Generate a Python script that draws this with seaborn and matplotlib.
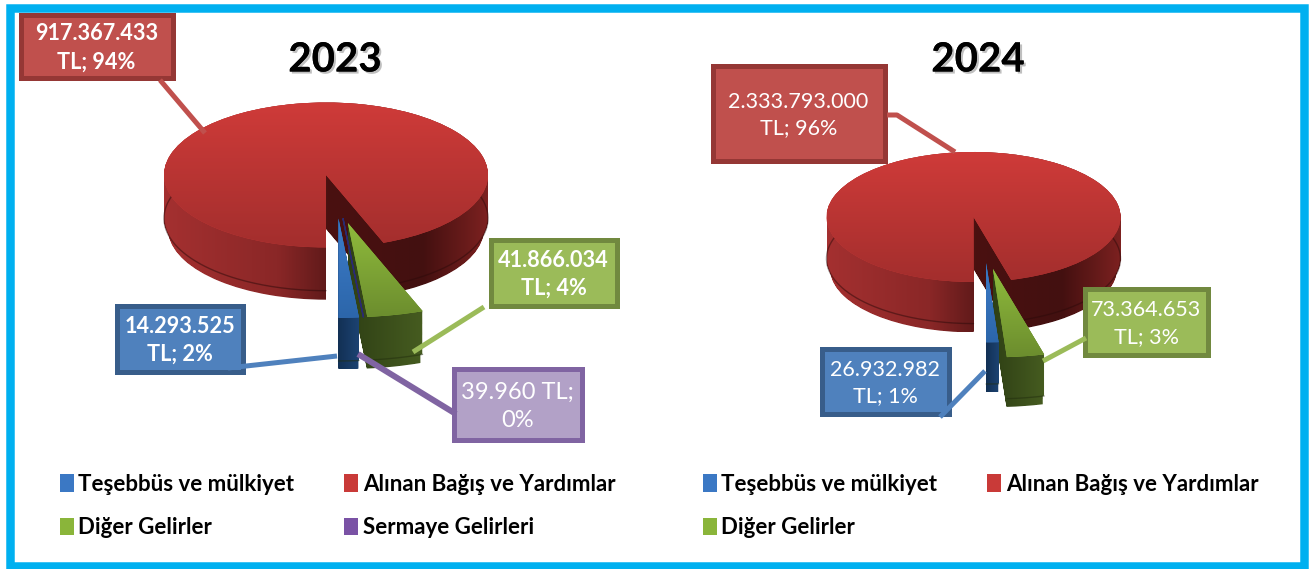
import numpy as np
import seaborn as sns
import matplotlib
matplotlib.use('Agg')
import matplotlib.pyplot as plt
import matplotlib.patheffects as pe
from matplotlib.colors import LinearSegmentedColormap
from matplotlib.patches import Rectangle
from matplotlib.path import Path

# data
categories_2023 = ['Teşebbüs ve mülkiyet', 'Alınan Bağış ve Yardımlar', 'Diğer Gelirler', 'Sermaye Gelirleri']
values_2023 = [14293525, 917367433, 41866034, 39960]
percents_2023 = [2, 94, 4, 0]

categories_2024 = ['Teşebbüs ve mülkiyet', 'Alınan Bağış ve Yardımlar', 'Diğer Gelirler']
values_2024 = [26932982, 2333793000, 73364653]
percents_2024 = [1, 96, 3]

W, H = 1313, 569

sns.set_theme(style='white')
plt.rcParams['font.family'] = ['Lato', 'DejaVu Sans']

palette = sns.color_palette(['#3b78c4', '#c93a38', '#8ab53a', '#7a52a5'])
box_fill = ['#4f81bd', '#c0504d', '#9bbb59', '#b2a1c7']
box_edge = ['#385d8a', '#953735', '#71893f', '#8064a2']
line_col = ['#4f81bd', '#c0504d', '#9bbb59', '#8064a2']

top_stops = [
    [(0, '#3d7cc9'), (1, '#2c66aa')],
    [(0, '#cf3b39'), (1, '#a32e2d')],
    [(0, '#8fbb3c'), (1, '#6c8d2e')],
    [(0, '#7a52a5'), (1, '#5a3c80')],
]
side_stops = [
    [(0, '#123054'), (1, '#1c4372')],
    [(0, '#a43030'), (0.35, '#8a2727'), (0.5, '#611a1a'), (0.502, '#4a1110'), (0.8, '#431010'), (1, '#7c2120')],
    [(0, '#2f4015'), (1, '#465c20')],
    [(0, '#2d1f4d'), (1, '#3f2a63')],
]


def gradient_image(ax, path, stops, vertical, z):
    # fill a path with a linear gradient, image clipped to the path
    bb = path.get_extents()
    cmap = LinearSegmentedColormap.from_list('g', stops)
    grad = np.linspace(0, 1, 256)
    grad = grad[:, None] if vertical else grad[None, :]
    im = ax.imshow(grad, cmap=cmap, vmin=0, vmax=1, aspect='auto', origin='upper',
                   extent=(bb.x0, bb.x1, bb.y0, bb.y1), zorder=z, interpolation='bilinear')
    im.set_clip_path(path, transform=ax.transData)


def extrude(path, depth, center):
    layers = []
    for t in np.linspace(0, 1, 60):
        scale = 1.0 if t < 0.8 else 0.975
        v = (path.vertices - center) * scale + center
        v = v + [0, -depth * t]
        layers.append(Path(v, path.codes))
    return Path.make_compound_path(*layers)


def draw_pie(cx, cy, rx, ry, depth_px, values, explode, grow, nudge, order):
    # axes over the whole figure, one data unit = rx / ry pixels
    ax = fig.add_axes([0, 0, 1, 1], zorder=1)
    start = -90 + 360 * values[0] / sum(values)
    wedges, _ = ax.pie(values, explode=explode, colors=palette[:len(values)], startangle=start,
                       counterclock=False, radius=1, wedgeprops={'linewidth': 0})
    depth = depth_px / ry
    for z, i in enumerate(order):
        w = wedges[i]
        w.set_radius(grow[i])
        w.set_center((w.center[0] + nudge[i] / rx, w.center[1]))
        path = w.get_path()
        c = np.array(w.center)
        w.set_zorder(10 + 3 * z + 1)
        if w.theta2 - w.theta1 < 0.5:
            # sliver, too thin to fill: show it as a dark line
            w.set_edgecolor('#2a2a70')
            w.set_linewidth(1.0)
            continue
        side = extrude(path, depth, c)
        gradient_image(ax, side, side_stops[i], False, 10 + 3 * z)
        gradient_image(ax, path, top_stops[i], True, 10 + 3 * z + 2)
        th = np.radians(np.linspace(w.theta1, w.theta2, 400))
        ax.plot(c[0] + grow[i] * np.cos(th), c[1] + grow[i] * np.sin(th) - depth * 0.8,
                color='#2c0a0a' if i == 1 else '#222e0e', lw=1, alpha=0.5, zorder=10 + 3 * z + 0.5)
    ax.set_aspect('auto')
    ax.set_xlim((0 - cx) / rx, (W - cx) / rx)
    ax.set_ylim((cy - H) / ry, cy / ry)
    ax.patch.set_visible(False)
    ax.set_axis_off()
    return wedges


def label_text(value, percent):
    return f'{value:,}'.replace(',', '.'), f'TL; {percent}%'


def callout(i, box, first, second, size, weight, leader, lw=5):
    x0, y0, x1, y1 = box
    pts = np.array(leader)
    ov.add_patch(Rectangle((x0 + 2.5, y0 + 2.5), x1 - x0 - 5, y1 - y0 - 5, facecolor=box_fill[i],
                           edgecolor=box_edge[i], lw=5 * 0.72, zorder=3))
    ov.plot(pts[:, 0], pts[:, 1], color=line_col[i], lw=lw * 0.72, solid_capstyle='butt', zorder=4)
    ov.text((x0 + x1) / 2, (y0 + y1) / 2 + 2, first + '\n' + second, color='white', fontsize=size,
            fontweight=weight, ha='center', va='center', linespacing=1.42, zorder=5)


fig = plt.figure(figsize=(W / 100, H / 100), dpi=100, facecolor='white')

wedges_23 = draw_pie(326, 175, 162, 72.5, 54, values_2023, [0.6, 0, 0.68, 0.6], [1.37, 1, 1.3, 1.37],
                     [8, 0, -3, 8], [1, 2, 3, 0])
wedges_24 = draw_pie(973.5, 217, 147, 65, 52, values_2024, [0.71, 0, 0.81], [1.22, 1, 1.36],
                     [9, 0, 0], [1, 2, 0])

# pixel overlay for frame, titles and callouts
ov = fig.add_axes([0, 0, 1, 1], zorder=2)
ov.set_xlim(0, W)
ov.set_ylim(H, 0)
ov.patch.set_visible(False)
ov.set_axis_off()

ov.add_patch(Rectangle((9.5, 8), 1294, 557.5, fill=False, edgecolor='#00b0f0', lw=8.5 * 0.72))

shadow = [pe.withSimplePatchShadow(offset=(1.5, -1.5), shadow_rgbFace='#000000', alpha=0.25), pe.Normal()]
for x, y, t in [(335, 60, '2023'), (978, 60, '2024')]:
    txt = ov.text(x, y, t, fontsize=29, fontweight='bold', color='black', ha='center', va='center')
    txt.set_path_effects(shadow)

a, b = label_text(values_2023[1], percents_2023[1])
callout(1, (18, 12, 175, 80), a, b, 15.6, 'bold', [(160, 80), (205, 133)])
a, b = label_text(values_2023[0], percents_2023[0])
callout(0, (114, 303, 245, 374), a, b, 15.6, 'bold', [(228, 368), (337, 356)])
a, b = label_text(values_2023[2], percents_2023[2])
callout(2, (488, 237, 619, 308), a, b, 15.6, 'bold', [(484, 307), (413, 352)])
a, b = label_text(values_2023[3], percents_2023[3])
callout(3, (451, 366, 584, 442), f'{a} TL;', f'{percents_2023[3]}%', 17, 'normal', [(358, 354), (456, 414)], lw=6)

a, b = label_text(values_2024[1], percents_2024[1])
callout(1, (710, 63, 887, 163), a, b, 15.5, 'normal', [(887, 115), (897, 115), (955, 152)])
a, b = label_text(values_2024[0], percents_2024[0])
callout(0, (819, 346, 951, 416), a, b, 15.5, 'normal', [(985, 371), (940, 417)])
a, b = label_text(values_2024[2], percents_2024[2])
callout(2, (1082, 286, 1210, 357), a, b, 15.5, 'normal', [(1086, 338), (1043, 361)])

# legends, columns fill top to bottom
leg_opts = dict(frameon=False, ncols=2, prop={'weight': 'bold', 'size': 16}, handlelength=0.63,
                handleheight=0.85, handletextpad=0.2, labelspacing=1.0, borderpad=0, borderaxespad=0,
                loc='upper left', bbox_transform=ov.transData, labelcolor='black', columnspacing=2.25)
leg_23 = fig.legend([wedges_23[0], wedges_23[2], wedges_23[1], wedges_23[3]],
                    [categories_2023[0], categories_2023[2], categories_2023[1], categories_2023[3]],
                    bbox_to_anchor=(60, 474), **leg_opts)
leg_24 = fig.legend([wedges_24[0], wedges_24[2], wedges_24[1]],
                    [categories_2024[0], categories_2024[2], categories_2024[1]],
                    bbox_to_anchor=(703, 474), **leg_opts)
for leg in [leg_23, leg_24]:
    for handle in leg.legend_handles:
        handle.set_edgecolor('none')
        handle.set_linewidth(0)

fig.savefig('out.png', dpi=100)
